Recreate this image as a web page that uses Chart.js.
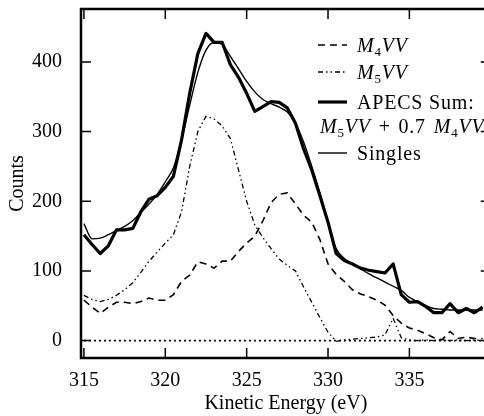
<!DOCTYPE html>
<html><head><meta charset="utf-8">
<script src="https://cdn.jsdelivr.net/npm/chart.js@4.4.1/dist/chart.umd.min.js"></script>
<style>
html,body{margin:0;padding:0;overflow:hidden;background:#fff;width:484px;height:416px}
#wrap{position:relative;width:500px;height:416px}
#legend{position:absolute;left:0;top:0;width:500px;height:416px;font-family:"Liberation Serif","Times New Roman",serif;font-size:20px;color:#000;pointer-events:none;letter-spacing:0.8px}
.row{position:absolute;height:24px;line-height:24px;white-space:nowrap;display:flex;align-items:center}
.row svg{flex:none}
.row span{margin-left:10px;white-space:pre}
.formula{position:absolute;height:24px;line-height:24px;white-space:pre;display:block;word-spacing:2px}
sub{font-size:13px;vertical-align:-4px;line-height:0}
</style></head>
<body><div id="wrap"><canvas id="c" width="500" height="416"></canvas><div id="legend"></div></div>
<script>
// ---- data ----
const energy = [315,315.5,316,316.5,317,317.5,318,318.5,319,319.5,320,320.5,321,321.5,322,322.5,323,323.5,324,324.5,325,325.5,326,326.5,327,327.5,328,328.5,329,329.5,330,330.5,331,331.5,332,332.5,333,333.5,334,334.5,335,335.5,336,336.5,337,337.5,338,338.5,339,339.5];
const m4vv = [58,48,39,48,55,55,53,56,61,58,58,66,85,94,113,110,104,114,114,128,140,150,172,198,210,212,196,180,170,145,110,95,85,73,67,63,58,51,36,25,18,15,10,4,1,13,3,5,3,3];
const m5vv = [65,59,56,59,65,73,83,98,114,127,140,152,185,250,300,322,318,308,290,245,200,166,148,132,117,108,100,77,55,33,12,-1,1,2,3,4,5,8,32,4,1,0,1,0,1,0,1,0,1,0];
const apecsSum = [152,138,125,136,159,159,161,185,203,208,220,236,288,355,412,441,428,428,396,378,355,329,336,343,342,334,312,275,245,208,170,125,115,110,104,101,99,97,110,66,55,56,49,40,40,53,40,46,40,48];
const singles = [168,146,147,152,158,164,172,184,196,210,228,248,288,338,385,417,428,425,408,390,372,357,346,340,335,328,312,285,250,212,170,132,118,110,103,96,90,84,78,72,62,56,50,46,45,44,44,44,44,44];
const zeroLineX = [315, 340];
const xTicks = [315,320,325,330,335];
const yTicks = [0,100,200,300,400];
const legendNames = ['M_4VV','M_5VV','APECS Sum:','Singles'];
const sumFormula = 'M_5VV + 0.7 M_4VV';

const pts = (xs, ys) => xs.map((x,i)=>({x, y: ys[i]}));
const FONT = "'Liberation Serif','Times New Roman',serif";

const datasets = [
  {label: 'APECS Sum', data: pts(energy, apecsSum), borderColor:'#000', borderWidth:3.2, tension:0, borderJoinStyle:'round', legendIndex:2},
  {label: 'Singles', data: pts(energy, singles), borderColor:'#000', borderWidth:1.4, cubicInterpolationMode:'monotone', legendIndex:3},
  {label: 'M4VV', data: pts(energy, m4vv), borderColor:'#000', borderWidth:1.6, borderDash:[7,5], legendIndex:0},
  {label: 'M5VV', data: pts(energy, m5vv), borderColor:'#000', borderWidth:1.3, borderDash:[5,3,1.5,3,1.5,3], legendIndex:1},
  {label: 'zero', data: zeroLineX.map(x=>({x, y:0})), borderColor:'#000', borderWidth:1.6, borderDash:[2,3]}
];
datasets.forEach(d=>{ d.pointRadius=0; d.fill=false; });

const framePlugin = {
  id:'frame',
  afterDatasetsDraw(chart){
    const {ctx, chartArea:a, scales:{x,y}} = chart;
    ctx.save();
    ctx.strokeStyle='#000';
    ctx.setLineDash([]);
    ctx.lineWidth=2.5;
    ctx.beginPath();
    ctx.rect(a.left, a.top, a.right-a.left, a.bottom-a.top);
    ctx.stroke();
    ctx.lineWidth=1.5;
    ctx.beginPath();
    xTicks.forEach(v=>{const px=x.getPixelForValue(v); ctx.moveTo(px,a.bottom); ctx.lineTo(px,a.bottom-10); ctx.moveTo(px,a.top); ctx.lineTo(px,a.top+10);});
    yTicks.forEach(v=>{const py=y.getPixelForValue(v); ctx.moveTo(a.left,py); ctx.lineTo(a.left+10,py); ctx.moveTo(a.right,py); ctx.lineTo(a.right-10,py);});
    ctx.stroke();
    ctx.restore();
  }
};

const chart = new Chart(document.getElementById('c'), {
  type:'line',
  data:{datasets},
  options:{
    responsive:false, animation:false, devicePixelRatio:1,
    layout:{padding:{left:0, top:9, right:9.25, bottom:0}},
    plugins:{legend:{display:false}, tooltip:{enabled:false}},
    scales:{
      x:{type:'linear', min:314.82, max:340,
        grid:{display:false, drawTicks:false}, border:{display:false},
        afterBuildTicks:s=>{ s.ticks = xTicks.map(v=>({value:v})); },
        afterFit:s=>{ s.height=58; s.paddingLeft=0; s.paddingRight=0; },
        ticks:{font:{family:FONT,size:20}, color:'#000', padding:11, maxRotation:0, autoSkip:false},
        title:{display:true, text:'Kinetic Energy (eV)', font:{family:FONT,size:20}, color:'#000', padding:{top:0,bottom:0}}
      },
      y:{type:'linear', min:-25, max:476,
        grid:{display:false, drawTicks:false}, border:{display:false},
        afterBuildTicks:s=>{ s.ticks = yTicks.map(v=>({value:v})); },
        afterFit:s=>{ s.width=81; s.paddingTop=0; s.paddingBottom=0; },
        ticks:{font:{family:FONT,size:20}, color:'#000', padding:19},
        title:{display:true, text:'Counts', font:{family:FONT,size:20}, color:'#000', padding:{top:6,bottom:0}}
      }
    }
  },
  plugins:[framePlugin]
});

// ---- HTML legend built from the datasets ----
function fmt(s){ return s.replace(/M_(\d)VV/g, '<i>M</i><sub>$1</sub><i>VV</i>'); }
const legend = document.getElementById('legend');
const rowY = [45,72,102,153];
chart.data.datasets.filter(d=>d.legendIndex!==undefined)
  .sort((a,b)=>a.legendIndex-b.legendIndex)
  .forEach((d,k)=>{
    const row = document.createElement('div');
    row.className='row';
    row.style.left='318px';
    row.style.top=(rowY[k]-12)+'px';
    const dash = d.borderDash ? d.borderDash.join(',') : 'none';
    row.innerHTML = `<svg width="29" height="24"><line x1="0" y1="12" x2="29" y2="12" stroke="#000" stroke-width="${d.borderWidth}" stroke-dasharray="${dash}"/></svg><span>${fmt(legendNames[d.legendIndex])}</span>`;
    legend.appendChild(row);
  });
const f = document.createElement('div');
f.className='formula';
f.style.left='320px';
f.style.top=(126-12)+'px';
f.innerHTML = fmt(sumFormula);
legend.appendChild(f);
</script></body></html>
